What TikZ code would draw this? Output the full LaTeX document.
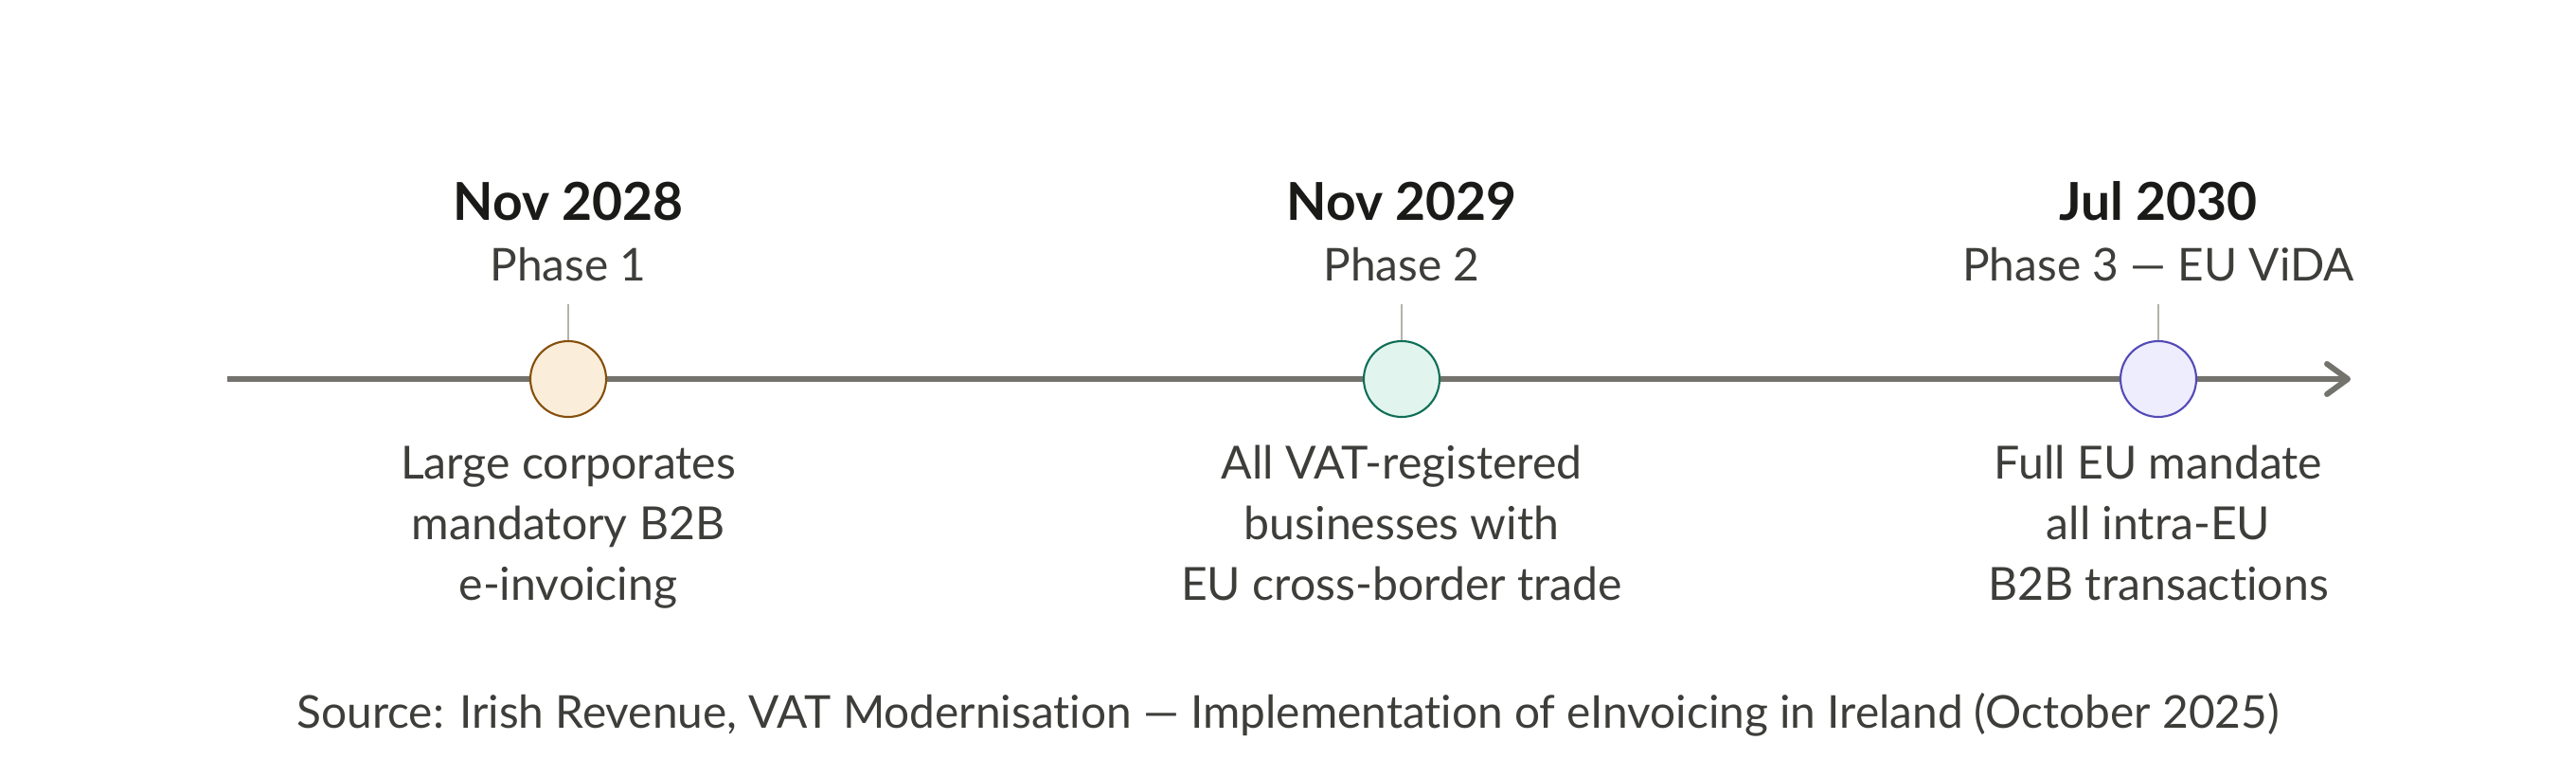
\documentclass[tikz,border=0pt]{standalone}
\usepackage{fontspec}
\setmainfont{Lato}[Ligatures=NoCommon]
\usepackage{tikz}
\usetikzlibrary{arrows.meta}

\definecolor{datecol}{HTML}{1A1A18}
\definecolor{textcol}{HTML}{3D3D3A}
\definecolor{axiscol}{HTML}{73726C}
\definecolor{tickcol}{HTML}{B4B2A9}
\definecolor{amberfill}{HTML}{FAEEDA}
\definecolor{amberline}{HTML}{854F0B}
\definecolor{tealfill}{HTML}{E1F5EE}
\definecolor{tealline}{HTML}{0F6E56}
\definecolor{purplefill}{HTML}{EEEDFE}
\definecolor{purpleline}{HTML}{534AB7}

\begin{document}
\begin{tikzpicture}[
		every node/.style={inner sep=0pt},
		milestone/.style={circle, minimum size=0.8cm, line width=0.6pt},
		datelabel/.style={font=\bfseries\fontsize{15.7}{18}\selectfont, text=datecol, anchor=base},
		phaselabel/.style={font=\fontsize{13.6}{16}\selectfont, text=textcol, anchor=base},
		desclabel/.style={font=\fontsize{13.7}{18.2}\selectfont, text=textcol, align=center, anchor=base},
		tickline/.style={draw=tickcol, line width=0.5pt, shorten >=0.24cm}
	]
		\useasboundingbox (0,-4.19) rectangle (27.2,4);

		\coordinate (start) at (2.4,0);
		\coordinate (end) at (24.82,0);
		\draw[axiscol, line width=1.7pt, -{Straight Barb[round, length=0.22cm, width=0.32cm]}] (start) -- (end);

		\node[milestone, fill=amberfill, draw=amberline] (m1) at (6,0) {};
		\node[milestone, fill=tealfill, draw=tealline] (m2) at (14.8,0) {};
		\node[milestone, fill=purplefill, draw=purpleline] (m3) at (22.79,0) {};

		\node[datelabel] (d1) at (6,1.68) {Nov 2028};
		\node[datelabel] (d2) at (14.8,1.68) {Nov 2029};
		\node[datelabel] (d3) at (22.79,1.68) {Jul 2030};

		\node[phaselabel] (p1) at (6,1.04) {Phase 1};
		\node[phaselabel] (p2) at (14.8,1.04) {Phase 2};
		\node[phaselabel] (p3) at (22.79,1.04) {Phase 3 — EU ViDA};

		\draw[tickline] (m1.north) -- (p1.south);
		\draw[tickline] (m2.north) -- (p2.south);
		\draw[tickline] (m3.north) -- (p3.south);

		\node[desclabel] (t1) at (6,-2.33) {Large corporates\\mandatory B2B\\e-invoicing};
		\node[desclabel] (t2) at (14.8,-2.33) {All VAT-registered\\businesses with\\EU cross-border trade};
		\node[desclabel] (t3) at (22.79,-2.33) {Full EU mandate\\all intra-EU\\B2B transactions};

		\node[phaselabel] (src) at (13.6,-3.68) {Source: Irish Revenue, VAT Modernisation — Implementation of eInvoicing in Ireland (October 2025)};
	\end{tikzpicture}
\end{document}
